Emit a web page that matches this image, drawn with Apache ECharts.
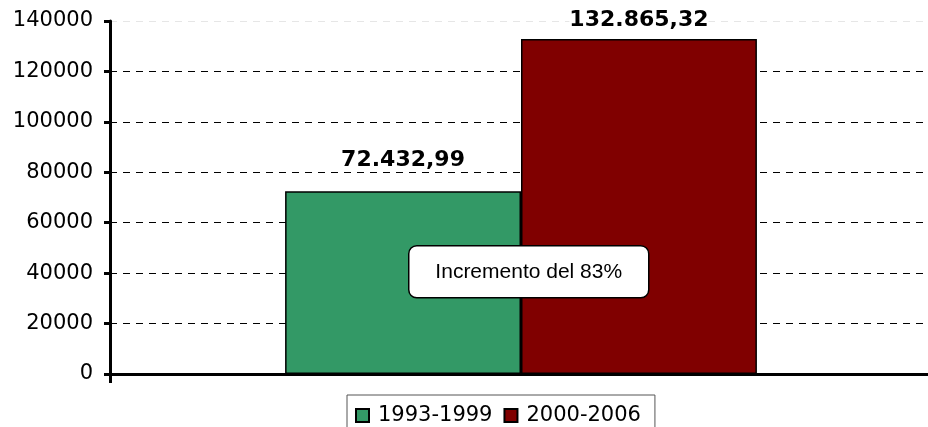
<!DOCTYPE html>
<html>
<head>
<meta charset="utf-8">
<script src="https://cdn.jsdelivr.net/npm/echarts@6/dist/echarts.min.js"></script>
<style>html,body{margin:0;padding:0;background:#fff;overflow:hidden}#c{width:932px;height:427px}</style>
</head>
<body>
<div id="c"></div>
<script>
const categories = [''];
const seriesNames = ['1993-1999', '2000-2006'];
const values1993 = [72432.99];
const values2000 = [132865.32];
const yTicks = [0, 20000, 40000, 60000, 80000, 100000, 120000, 140000];
const annotationText = 'Incremento del 83%';

function fmt(v) {
  const parts = v.toFixed(2).split('.');
  return parts[0].replace(/\B(?=(\d{3})+(?!\d))/g, '.') + ',' + parts[1];
}

const chart = echarts.init(document.getElementById('c'), null, {renderer: 'canvas'});
function labelCfg(dist) {
  return {
    show: true, position: 'top', distance: dist,
    fontFamily: 'DejaVu Sans', fontWeight: 'bold', fontSize: 22, color: '#000',
    backgroundColor: '#fff',
    formatter: p => fmt(p.value)
  };
}
chart.setOption({
  animation: false,
  backgroundColor: '#fff',
  grid: {left: 110, right: 0, top: 21, bottom: 53, containLabel: false},
  legend: {
    data: seriesNames,
    left: 347, top: 395,
    padding: [10, 14, 10, 8],
    borderColor: '#555', borderWidth: 1,
    itemWidth: 13, itemHeight: 13, itemGap: 11,
    icon: 'rect',
    textStyle: {fontFamily: 'DejaVu Sans', fontSize: 21, color: '#000', padding: [0, 0, 0, 4]}
  },
  xAxis: {
    type: 'category', data: categories,
    axisLine: {lineStyle: {color: '#000', width: 3}},
    axisTick: {show: true, length: 9, lineStyle: {color: '#000', width: 3}},
    axisLabel: {show: false}
  },
  yAxis: {
    type: 'value', min: yTicks[0], max: yTicks[yTicks.length - 1], interval: yTicks[1] - yTicks[0],
    axisLine: {show: true, lineStyle: {color: '#000', width: 3}},
    axisTick: {show: true, length: 6, lineStyle: {color: '#000', width: 3}},
    axisLabel: {fontFamily: 'DejaVu Sans', fontSize: 21, color: '#000', margin: 17, formatter: v => String(v)},
    splitLine: {show: true, lineStyle: {color: ['#000','#000','#000','#000','#000','#000','#000','#e6e6e6'], type: [7, 6], width: 1}}
  },
  series: [
    {name: seriesNames[0], type: 'bar', data: values1993, barGap: '0%', barCategoryGap: '42.6%',
     itemStyle: {color: '#339966', borderColor: '#000', borderWidth: 1.5}, label: labelCfg(20)},
    {name: seriesNames[1], type: 'bar', data: values2000, barGap: '0%', barCategoryGap: '42.6%',
     itemStyle: {color: '#800000', borderColor: '#000', borderWidth: 1.5}, label: labelCfg(8)}
  ],
  graphic: [{
    type: 'group', left: 408, top: 245,
    children: [
      {type: 'rect', shape: {x: 0, y: 0, width: 240, height: 52, r: 8},
       style: {fill: '#fff', stroke: '#000', lineWidth: 1.5}, z: 100},
      {type: 'text', x: 120, y: 26, z: 101,
       style: {text: annotationText, fill: '#000', font: '21px "Liberation Sans"', align: 'center', verticalAlign: 'middle'}}
    ]
  }]
});
</script>
</body>
</html>
